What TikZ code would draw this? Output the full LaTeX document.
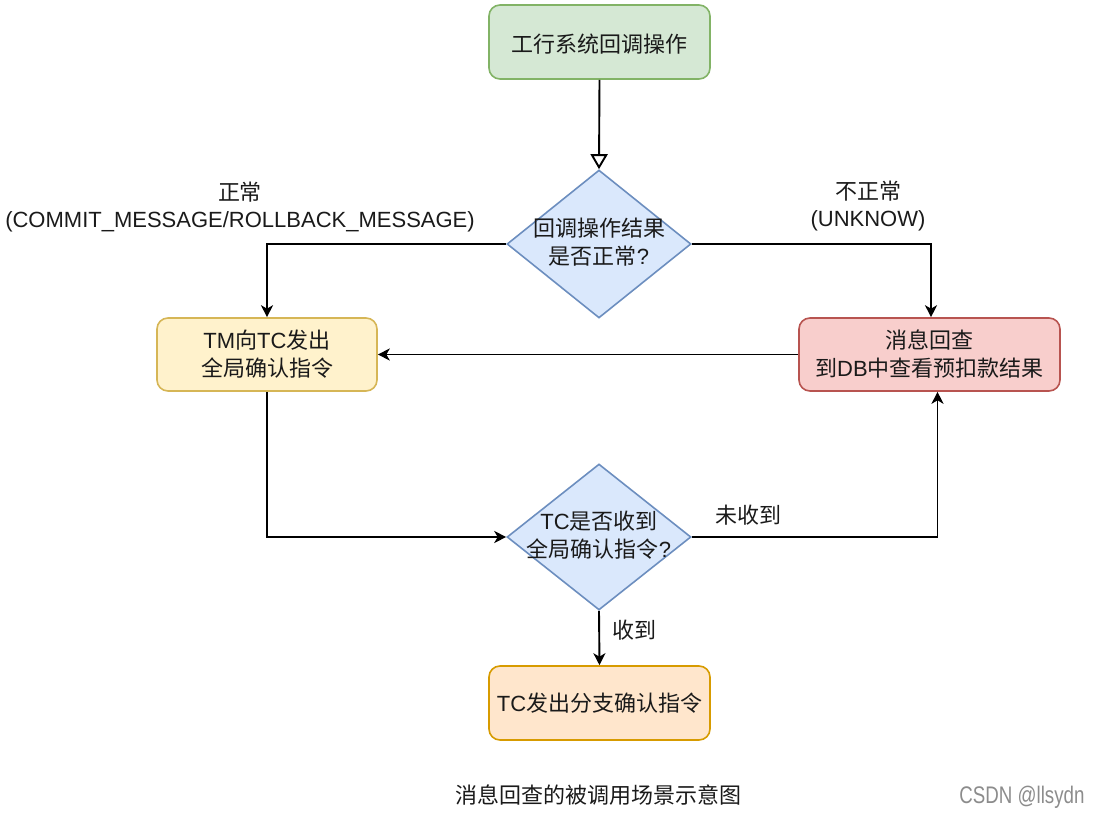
\documentclass[tikz,border=0pt]{standalone}
\usepackage{fontspec}
\setmainfont{Noto Sans CJK SC}
\newfontfamily\lat{Liberation Sans}
\newfontfamily\wm[FakeStretch=0.78]{Liberation Sans}
\usetikzlibrary{arrows.meta,shapes.geometric}
\definecolor{gfill}{HTML}{D5E8D4}\definecolor{gline}{HTML}{82B366}
\definecolor{bfill}{HTML}{DAE8FC}\definecolor{bline}{HTML}{6C8EBF}
\definecolor{yfill}{HTML}{FFF2CC}\definecolor{yline}{HTML}{D6B656}
\definecolor{rfill}{HTML}{F8CECC}\definecolor{rline}{HTML}{B85450}
\definecolor{ofill}{HTML}{FFE6CC}\definecolor{oline}{HTML}{D79B00}
\definecolor{txtc}{HTML}{1A1A1A}
\definecolor{wmc}{HTML}{8C8C8C}
\begin{document}
\begin{tikzpicture}[x=1pt,y=-1pt,
  txt/.style={font=\fontsize{22}{27.5}\selectfont, text=txtc, align=center, inner sep=0pt},
  box/.style={draw, rounded corners=11pt, line width=1.6pt, inner sep=0pt},
  diam/.style={draw=bline, fill=bfill, diamond, line width=1.6pt, inner sep=0pt,
    minimum width=184pt, minimum height=148pt, aspect=1.24},
  arr/.style={draw=black, line width=1.9pt, -{Stealth[length=12pt,width=12pt,inset=3.5pt]}},
  openarr/.style={draw=black, line width=1.9pt, -{Triangle[open,length=15pt,width=17pt,fill=white]}},
  lbl/.style={font=\fontsize{22}{27.5}\selectfont, text=txtc, align=center, inner sep=0pt}
]
\useasboundingbox (0,0) rectangle (1098,818);

\node[box, draw=gline, fill=gfill, minimum width=221pt, minimum height=74pt] (top) at (599.5,42) {};
\node[txt] (toptxt) at (599.5,44) {工行系统回调操作};

\node[diam] (d1) at (599,244) {};
\node[txt] (d1txt) at (599,242) {回调操作结果\\是否正常{\lat ?}};

\node[box, draw=yline, fill=yfill, minimum width=220pt, minimum height=73pt] (yb) at (267,354.5) {};
\node[txt] (ybtxt) at (267,354) {{\lat TM}向{\lat TC}发出\\全局确认指令};

\node[box, draw=rline, fill=rfill, minimum width=261pt, minimum height=73pt] (rb) at (929.5,354.5) {};
\node[txt] (rbtxt) at (929.5,354) {消息回查\\到{\lat DB}中查看预扣款结果};

\node[diam, minimum height=146pt] (d2) at (599,537) {};
\node[txt] (d2txt) at (599,535) {{\lat TC}是否收到\\全局确认指令{\lat ?}};

\node[box, draw=oline, fill=ofill, minimum width=221pt, minimum height=74pt] (ob) at (599.5,703) {};
\node[txt] (obtxt) at (599.5,703) {{\lat TC}发出分支确认指令};

% connectors
\draw[openarr] (top.south) -- (d1.north);
\draw[arr] (d1.west) -| (yb.north);
\draw[arr] (d1.east) -| ([xshift=1.5pt]rb.north);
\draw[arr] (rb.west) -- (yb.east);
\draw[arr] (yb.south) |- (d2.west);
\draw[arr] (d2.east) -| ([xshift=8pt]rb.south);
\draw[arr] (d2.south) -- (ob.north);

% labels
\node[lbl] (lnorm) at (240,207) {正常\\{\lat (COMMIT\_MESSAGE/ROLLBACK\_MESSAGE)}};
\node[lbl] (labn) at (868,206) {不正常\\{\lat (UNKNOW)}};
\node[lbl] (lnr) at (748,515) {未收到};
\node[lbl] (lr) at (634,630) {收到};

\node[lbl] (cap) at (598,795) {消息回查的被调用场景示意图};
\node[inner sep=0pt, text=wmc, font=\wm\fontsize{24}{28}\selectfont] (wmk) at (1022,797) {CSDN @llsydn};
\end{tikzpicture}
\end{document}
